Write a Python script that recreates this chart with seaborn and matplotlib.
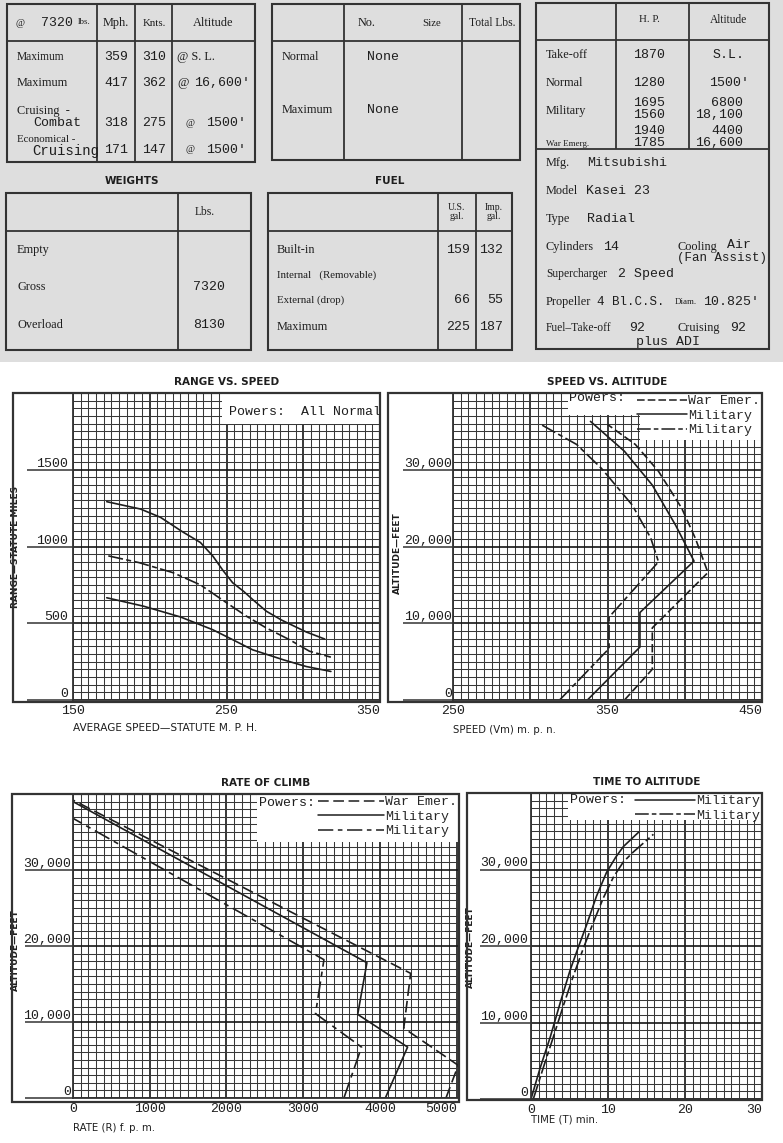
import matplotlib
matplotlib.use('Agg')
import matplotlib.pyplot as plt
from matplotlib.patches import Rectangle
from matplotlib.lines import Line2D
import seaborn as sns
import pandas as pd
import numpy as np

# ---------------- chart data ----------------
# Range vs speed, all normal power
range_top_mph = [172, 194, 207, 221, 233, 241, 248, 254, 261, 267, 276, 286, 302, 314]
range_top_mi = [1292, 1244, 1190, 1098, 1026, 939, 840, 764, 709, 655, 578, 520, 443, 397]
range_mid_mph = [173, 193, 215, 233, 252, 263, 276, 291, 304, 318]
range_mid_mi = [939, 895, 830, 750, 620, 546, 469, 393, 318, 279]
range_low_mph = [172, 196, 220, 241, 254, 267, 287, 302, 318]
range_low_mi = [666, 611, 541, 458, 393, 327, 262, 218, 186]

# Speed vs altitude
sa_war_mph = [361, 379, 379, 415, 407, 398, 383, 368, 350]
sa_war_ft = [0, 4000, 9400, 16600, 21000, 25000, 29800, 33300, 35900]
sa_mil_mph = [337, 371, 371, 406, 394, 379, 361, 339]
sa_mil_ft = [0, 6900, 11400, 18100, 22800, 28000, 32400, 36300]
sa_mil2_mph = [319, 351, 351, 383, 378, 366, 346, 330, 306]
sa_mil2_ft = [0, 6700, 10800, 18000, 21100, 25400, 30200, 33300, 36000]

# Rate of climb
roc_war_fpm = [4860, 5020, 4310, 4400, 0]
roc_war_ft = [0, 4300, 9200, 16400, 39200]
roc_mil_fpm = [4070, 4360, 3710, 3830, 0]
roc_mil_ft = [0, 6700, 11000, 17800, 39000]
roc_mil2_fpm = [3530, 3760, 3160, 3270, 0]
roc_mil2_ft = [0, 6700, 11100, 18200, 36800]

# Time to altitude
tta_mil_min = [0, 1.2, 2.5, 3.8, 5.1, 6.2, 7.2, 8.5, 9.8, 11.0, 12.0, 14.0]
tta_mil_ft = [0, 4100, 8100, 12600, 16900, 20000, 22700, 26500, 29600, 31600, 33000, 34900]
tta_mil2_min = [0.3, 1.6, 2.9, 4.2, 5.5, 6.8, 8.1, 9.4, 10.7, 12.0, 13.3, 15.9]
tta_mil2_ft = [0, 4100, 8100, 12200, 16100, 19700, 23100, 26300, 29000, 31000, 32300, 34600]

legend_labels = ['War Emer.', 'Military', 'Military']

W, H = 783, 1143
SERIF = 'Liberation Serif'
MONO = 'Liberation Mono'
INK = '#1e1e1e'
LINE = '#333333'

sns.set_theme(style='white')
plt.rcParams['font.family'] = ['DejaVu Sans']
plt.rcParams['axes.unicode_minus'] = False

fig = plt.figure(figsize=(W / 100, H / 100), dpi=100)
fig.patch.set_facecolor('white')


def box(l, t, r, b):
    return [l / W, 1 - b / H, (r - l) / W, (b - t) / H]


# ---------------- top data tables ----------------
top = fig.add_axes(box(0, 0, W, 362))
top.set_xlim(0, W)
top.set_ylim(362, 0)
top.set_facecolor('#dedede')
for s in top.spines.values():
    s.set_visible(False)
top.set_xticks([])
top.set_yticks([])


def table(l, t, r, b, hline, cols, col_bottom=None):
    top.add_patch(Rectangle((l, t), r - l, b - t, fill=False, ec=LINE, lw=1.5))
    top.hlines(hline, l, r, color=LINE, lw=1.3)
    top.vlines(cols, t, col_bottom if col_bottom else b, color=LINE, lw=1.3)


def txt(x, y, s, font=SERIF, size=8.8, ha='left', **kw):
    top.text(x, y, s, family=font, fontsize=size, ha=ha, va='center', color=INK, **kw)


table(7, 4, 255, 162, 41, [97, 135, 172])
table(272, 4, 520, 160, 41, [344, 462])
table(536, 3, 769, 349, 40, [616, 689], col_bottom=149)
top.hlines(149, 536, 769, color=LINE, lw=1.3)
table(6, 193, 251, 350, 231, [178])
table(268, 193, 512, 350, 231, [438, 476])

# speed table
txt(16, 23, '@', size=7)
txt(41, 23, '7320', MONO, 9.5)
txt(78, 22, 'lbs.', size=6.5)
txt(116, 23, 'Mph.', size=8.8, ha='center')
txt(154, 23, 'Knts.', size=7.8, ha='center')
txt(213, 23, 'Altitude', size=8.8, ha='center')
txt(17, 57, 'Maximum', size=8.3)
txt(17, 83, 'Maximum', size=8.8)
txt(17, 111, 'Cruising  -', size=8.8)
txt(33, 123, 'Combat', MONO, 9.5)
txt(17, 140, 'Economical -', size=7.8)
txt(32, 151, 'Cruising', MONO, 10)
for y, a, b in zip([57, 83, 123, 150], ['359', '417', '318', '171'], ['310', '362', '275', '147']):
    txt(116, y, a, MONO, 9.5, ha='center')
    txt(154, y, b, MONO, 9.5, ha='center')
txt(177, 57, '@ S. L.', size=8.8)
txt(177, 83, '@', size=9)
txt(194, 83, "16,600'", MONO, 9.5)
for y in [123, 150]:
    txt(185, y, '@', size=7)
    txt(246, y, "1500'", MONO, 9.5, ha='right')

# bombs table
txt(367, 23, 'No.', size=8.8, ha='center')
txt(432, 23, 'Size', size=7.8, ha='center')
txt(492, 23, 'Total Lbs.', size=8.3, ha='center')
txt(282, 57, 'Normal', size=8.8)
txt(367, 57, 'None', MONO, 9.5)
txt(282, 110, 'Maximum', size=8.8)
txt(367, 110, 'None', MONO, 9.5)

# engine table
txt(649, 20, 'H. P.', size=7.8, ha='center')
txt(729, 20, 'Altitude', size=8.3, ha='center')
txt(546, 55, 'Take-off', size=8.8)
txt(649, 55, '1870', MONO, 9.5, ha='center')
txt(729, 55, 'S.L.', MONO, 9.5, ha='center')
txt(546, 83, 'Normal', size=8.8)
txt(649, 83, '1280', MONO, 9.5, ha='center')
txt(729, 83, "1500'", MONO, 9.5, ha='center')
txt(546, 111, 'Military', size=8.8)
txt(649, 103, '1695', MONO, 9.5, ha='center')
txt(649, 115, '1560', MONO, 9.5, ha='center')
txt(743, 103, '6800', MONO, 9.5, ha='right')
txt(743, 115, '18,100', MONO, 9.5, ha='right')
txt(546, 144, 'War Emerg.', size=6.5)
txt(649, 131, '1940', MONO, 9.5, ha='center')
txt(649, 143, '1785', MONO, 9.5, ha='center')
txt(743, 131, '4400', MONO, 9.5, ha='right')
txt(743, 143, '16,600', MONO, 9.5, ha='right')
txt(546, 163, 'Mfg.', size=8.8)
txt(587, 163, 'Mitsubishi', MONO, 9.5)
txt(546, 191, 'Model', size=8.8)
txt(586, 191, 'Kasei 23', MONO, 9.5)
txt(546, 219, 'Type', size=8.8)
txt(587, 219, 'Radial', MONO, 9.5)
txt(546, 247, 'Cylinders', size=8.8)
txt(603, 247, '14', MONO, 9.5)
txt(677, 247, 'Cooling', size=8.8)
txt(727, 245, 'Air', MONO, 9.5)
txt(677, 258, '(Fan Assist)', MONO, 9)
txt(546, 274, 'Supercharger', size=8.3)
txt(618, 274, '2 Speed', MONO, 9.5)
txt(546, 302, 'Propeller', size=8.8)
txt(597, 302, '4 Bl.C.S.', MONO, 9)
txt(675, 302, 'Diam.', size=6.5)
txt(703, 302, "10.825'", MONO, 9.5)
txt(546, 328, 'Fuel\u2013Take-off', size=8.3)
txt(629, 328, '92', MONO, 9.5)
txt(677, 328, 'Cruising', size=8.8)
txt(730, 328, '92', MONO, 9.5)
txt(636, 342, 'plus ADI', MONO, 9.5)

# weights / fuel
txt(132, 181, 'WEIGHTS', 'DejaVu Sans', 7.5, ha='center', fontweight='bold')
txt(390, 181, 'FUEL', 'DejaVu Sans', 7.5, ha='center', fontweight='bold')
txt(205, 212, 'Lbs.', size=8.3, ha='center')
txt(17, 250, 'Empty', size=8.8)
txt(17, 287, 'Gross', size=8.8)
txt(209, 287, '7320', MONO, 9.5, ha='center')
txt(17, 325, 'Overload', size=8.8)
txt(209, 325, '8130', MONO, 9.5, ha='center')
txt(457, 212, 'U.S.\ngal.', size=7, ha='center', linespacing=0.9)
txt(494, 212, 'Imp.\ngal.', size=7, ha='center', linespacing=0.9)
txt(277, 250, 'Built-in', size=8.8)
txt(277, 275, 'Internal   (Removable)', size=7.8)
txt(277, 300, 'External (drop)', size=7.8)
txt(277, 327, 'Maximum', size=8.8)
for y, a, b in zip([250, 300, 327], ['159', '66', '225'], ['132', '55', '187']):
    txt(470, y, a, MONO, 9.5, ha='right')
    txt(503, y, b, MONO, 9.5, ha='right')


# ---------------- charts ----------------
def chart(frame, grid, xlim, ylim, xt, xtl, xminor, yt, ytl, yminor, ticklen, gap):
    l, t, r, b = frame
    fig.add_artist(Rectangle((l / W, 1 - b / H), (r - l) / W, (b - t) / H,
                             transform=fig.transFigure, fill=False, ec=LINE, lw=1.6))
    ax = fig.add_axes(box(*grid))
    ax.set_facecolor('white')
    ax.set_xlim(*xlim)
    ax.set_ylim(*ylim)
    ax.set_xticks(xt)
    ax.set_xticklabels(xtl, fontfamily=MONO, fontsize=9.5, color=INK)
    ax.get_xticklabels()[-1].set_ha('right')
    ax.set_xticks(xminor, minor=True)
    ax.set_yticks(yt)
    ax.set_yticklabels(ytl, fontfamily=MONO, fontsize=9.5, color=INK, va='bottom')
    ax.set_yticks(yminor, minor=True)
    ax.grid(which='minor', color='#383838', lw=0.75)
    ax.grid(which='major', color='#151515', lw=1.2)
    ax.tick_params(axis='x', which='both', length=0, pad=3.5)
    ax.tick_params(axis='y', which='minor', length=0)
    L = ticklen * 0.72
    ax.tick_params(axis='y', which='major', length=L, width=1.1, color=LINE,
                   direction='out', pad=gap * 0.72 - L, left=True)
    for s in ax.spines.values():
        s.set_color(LINE)
        s.set_linewidth(1.3)
    return ax


def legend(ax, handles, labels, handlelength):
    ax.legend(handles, labels, loc='upper right', bbox_to_anchor=(1, 1), frameon=False,
              borderaxespad=0, borderpad=0.15, labelspacing=0.18, handlelength=handlelength,
              handletextpad=0.1, prop={'family': MONO, 'size': 9.5})


def white(ax, x0, y0):
    ax.add_patch(Rectangle((x0, y0), 1 - x0, 1 - y0, transform=ax.transAxes,
                           fc='white', ec='none', zorder=3))


solid = ''
dashed = (5, 2)
dashdot = (9, 2, 3, 2)
kw = dict(color=INK, linewidth=1.2, sort=False, estimator=None, legend=False)

# Range vs speed
ax1 = chart((13, 393, 380, 702), (73, 393, 380, 700), (150, 350), (0, 2000),
            [150, 200, 250, 300, 350], ['150', '', '250', '', '350'], np.arange(150, 351, 5),
            [0, 500, 1000, 1500], ['0', '500', '1000', '1500'], np.arange(0, 2001, 50), 46, 5)
df1 = pd.DataFrame({
    'mph': range_top_mph + range_mid_mph + range_low_mph,
    'miles': range_top_mi + range_mid_mi + range_low_mi,
    'curve': ['top'] * len(range_top_mph) + ['mid'] * len(range_mid_mph) + ['low'] * len(range_low_mph),
})
sns.lineplot(data=df1, x='mph', y='miles', style='curve',
             dashes={'top': solid, 'mid': dashdot, 'low': solid}, ax=ax1, **kw)
white(ax1, 0.485, 0.899)
ax1.text(0.508, 0.938, 'Powers:  All Normal', transform=ax1.transAxes, family=MONO,
         fontsize=9.5, va='center', color=INK, zorder=6)
ax1.set_title('RANGE VS. SPEED', fontsize=7.5, fontweight='bold', pad=6, color=INK)
ax1.set_xlabel('AVERAGE SPEED\u2014STATUTE M. P. H.', fontsize=7.6, ha='left', va='top', color=INK)
ax1.xaxis.set_label_coords(0, -0.075)
ax1.set_ylabel('RANGE\u2014STATUTE MILES', fontsize=6.5, fontweight='bold', color=INK)
ax1.yaxis.set_label_coords(-0.173, 0.5)

# Speed vs altitude
alt_ticks = [0, 10000, 20000, 30000]
alt_labels = ['0', '10,000', '20,000', '30,000']
ax2 = chart((388, 393, 762, 702), (453, 393, 762, 700), (250, 450), (0, 40000),
            [250, 300, 350, 400, 450], ['250', '', '350', '', '450'], np.arange(250, 451, 5),
            alt_ticks, alt_labels, np.arange(0, 40001, 1000), 50, 1)
df2 = pd.DataFrame({
    'mph': sa_war_mph + sa_mil_mph + sa_mil2_mph,
    'ft': sa_war_ft + sa_mil_ft + sa_mil2_ft,
    'power': ['war'] * len(sa_war_mph) + ['mil'] * len(sa_mil_mph) + ['mil2'] * len(sa_mil2_mph),
})
sns.lineplot(data=df2, x='mph', y='ft', style='power',
             dashes={'war': dashed, 'mil': solid, 'mil2': dashdot}, ax=ax2, **kw)
white(ax2, 0.372, 0.928)
white(ax2, 0.605, 0.847)
ax2.text(0.375, 0.984, 'Powers:', transform=ax2.transAxes, family=MONO, fontsize=9.5,
         va='center', color=INK, zorder=6)
h3 = [Line2D([], [], color=INK, lw=1.1, dashes=d) for d in [dashed, solid, dashdot]]
legend(ax2, h3, legend_labels, 3.8)
ax2.set_title('SPEED VS. ALTITUDE', fontsize=7.5, fontweight='bold', pad=6, color=INK)
ax2.set_xlabel('SPEED (Vm) m. p. n.', fontsize=7.3, ha='left', va='top', color=INK)
ax2.xaxis.set_label_coords(0, -0.081)
ax2.set_ylabel('ALTITUDE\u2014FEET', fontsize=6.5, fontweight='bold', color=INK)
ax2.yaxis.set_label_coords(-0.165, 0.48)

# Rate of climb
ax3 = chart((12, 794, 459, 1102), (73, 794, 459, 1098), (0, 5030), (0, 40000),
            [0, 1000, 2000, 3000, 4000, 5000], ['0', '1000', '2000', '3000', '4000', '5000'],
            np.arange(0, 5031, 100), alt_ticks, alt_labels, np.arange(0, 40001, 1000), 48, 2)
df3 = pd.DataFrame({
    'fpm': roc_war_fpm + roc_mil_fpm + roc_mil2_fpm,
    'ft': roc_war_ft + roc_mil_ft + roc_mil2_ft,
    'power': ['war'] * len(roc_war_fpm) + ['mil'] * len(roc_mil_fpm) + ['mil2'] * len(roc_mil2_fpm),
})
sns.lineplot(data=df3, x='fpm', y='ft', style='power',
             dashes={'war': (7, 3), 'mil': solid, 'mil2': (10, 3, 3, 3)}, ax=ax3, **kw)
white(ax3, 0.477, 0.842)
ax3.text(0.482, 0.970, 'Powers:', transform=ax3.transAxes, family=MONO, fontsize=9.5,
         va='center', color=INK, zorder=6)
h3b = [Line2D([], [], color=INK, lw=1.1, dashes=d) for d in [(7, 3), solid, (10, 3, 3, 3)]]
legend(ax3, h3b, legend_labels, 5.0)
ax3.set_title('RATE OF CLIMB', fontsize=7.5, fontweight='bold', pad=6, color=INK)
ax3.set_xlabel('RATE (R) f. p. m.', fontsize=7.3, ha='left', va='top', color=INK)
ax3.xaxis.set_label_coords(0, -0.082)
ax3.set_ylabel('ALTITUDE\u2014FEET', fontsize=6.5, fontweight='bold', color=INK)
ax3.yaxis.set_label_coords(-0.137, 0.487)

# Time to altitude
ax4 = chart((467, 793, 762, 1100), (531, 793, 762, 1099), (0, 30), (0, 40000),
            [0, 10, 20, 30], ['0', '10', '20', '30'], np.arange(0, 31, 1),
            alt_ticks, alt_labels, np.arange(0, 40001, 1000), 51, 3)
df4 = pd.DataFrame({
    'min': tta_mil_min + tta_mil2_min,
    'ft': tta_mil_ft + tta_mil2_ft,
    'power': ['mil'] * len(tta_mil_min) + ['mil2'] * len(tta_mil2_min),
})
sns.lineplot(data=df4, x='min', y='ft', style='power',
             dashes={'mil': solid, 'mil2': dashdot}, ax=ax4, **kw)
white(ax4, 0.16, 0.912)
ax4.text(0.169, 0.977, 'Powers:', transform=ax4.transAxes, family=MONO, fontsize=9.5,
         va='center', color=INK, zorder=6)
h2 = [Line2D([], [], color=INK, lw=1.1, dashes=d) for d in [solid, dashdot]]
legend(ax4, h2, legend_labels[1:], 4.5)
ax4.set_title('TIME TO ALTITUDE', fontsize=7.5, fontweight='bold', pad=6, color=INK)
ax4.set_xlabel('TIME (T) min.', fontsize=7.3, ha='left', va='top', color=INK)
ax4.xaxis.set_label_coords(0, -0.052)
ax4.set_ylabel('ALTITUDE\u2014FEET', fontsize=6.5, fontweight='bold', color=INK)
ax4.yaxis.set_label_coords(-0.242, 0.497)

fig.savefig('out.png', dpi=100)
